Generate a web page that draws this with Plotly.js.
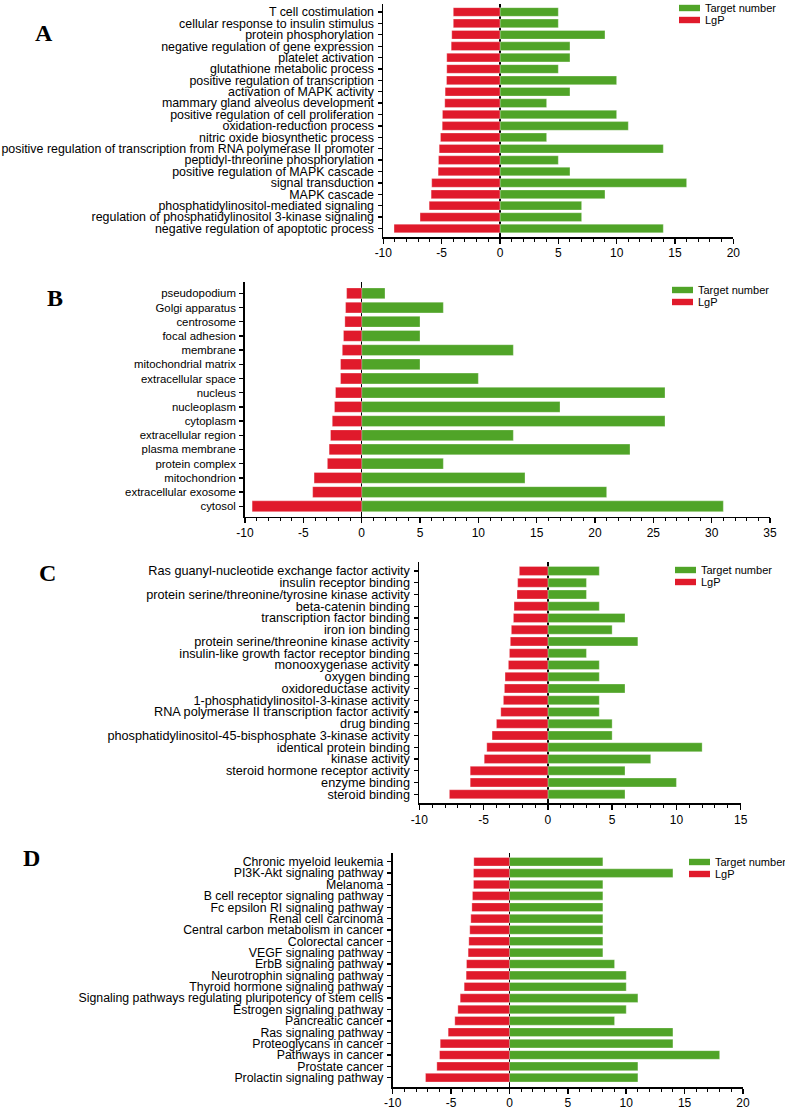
<!DOCTYPE html>
<html>
<head>
<meta charset="utf-8">
<script src="https://cdn.plot.ly/plotly-3.0.1.min.js"></script>
<style>html,body{margin:0;padding:0;background:#fff;}#chart{width:785px;height:1110px;}</style>
</head>
<body>
<div id="chart"></div>
<script>
// ---------- DATA ----------
const seriesNames = ["Target number", "LgP"];

const catsA = ["T cell costimulation","cellular response to insulin stimulus","protein phosphorylation","negative regulation of gene expression","platelet activation","glutathione metabolic process","positive regulation of transcription","activation of MAPK activity","mammary gland alveolus development","positive regulation of cell proliferation","oxidation-reduction process","nitric oxide biosynthetic process","positive regulation of transcription from RNA polymerase II promoter","peptidyl-threonine phosphorylation","positive regulation of MAPK cascade","signal transduction","MAPK cascade","phosphatidylinositol-mediated signaling","regulation of phosphatidylinositol 3-kinase signaling","negative regulation of apoptotic process"];
const lgpA = [-4.0,-4.0,-4.13,-4.18,-4.56,-4.56,-4.58,-4.70,-4.73,-4.93,-4.95,-5.10,-5.21,-5.27,-5.30,-5.85,-5.90,-6.07,-6.85,-9.08];
const numA = [5,5,9,6,6,5,10,6,4,10,11,4,14,5,6,16,9,7,7,14];

const catsB = ["pseudopodium","Golgi apparatus","centrosome","focal adhesion","membrane","mitochondrial matrix","extracellular space","nucleus","nucleoplasm","cytoplasm","extracellular region","plasma membrane","protein complex","mitochondrion","extracellular exosome","cytosol"];
const lgpB = [-1.29,-1.38,-1.44,-1.56,-1.66,-1.81,-1.81,-2.24,-2.33,-2.52,-2.67,-2.79,-2.94,-4.08,-4.20,-9.39];
const numB = [2,7,5,5,13,5,10,26,17,26,13,23,7,14,21,31];

const catsC = ["Ras guanyl-nucleotide exchange factor activity","insulin receptor binding","protein serine/threonine/tyrosine kinase activity","beta-catenin binding","transcription factor binding","iron ion binding","protein serine/threonine kinase activity","insulin-like growth factor receptor binding","monooxygenase activity","oxygen binding","oxidoreductase activity","1-phosphatidylinositol-3-kinase activity","RNA polymerase II transcription factor activity","drug binding","phosphatidylinositol-45-bisphosphate 3-kinase activity","identical protein binding","kinase activity","steroid hormone receptor activity","enzyme binding","steroid binding"];
const lgpC = [-2.22,-2.35,-2.40,-2.63,-2.68,-2.84,-2.92,-2.99,-3.07,-3.33,-3.38,-3.46,-3.66,-4.00,-4.34,-4.75,-4.95,-6.04,-6.04,-7.66];
const numC = [4,3,3,4,6,5,7,3,4,4,6,4,4,5,5,12,8,6,10,6];

const catsD = ["Chronic myeloid leukemia","PI3K-Akt signaling pathway","Melanoma","B cell receptor signaling pathway","Fc epsilon RI signaling pathway","Renal cell carcinoma","Central carbon metabolism in cancer","Colorectal cancer","VEGF signaling pathway","ErbB signaling pathway","Neurotrophin signaling pathway","Thyroid hormone signaling pathway","Signaling pathways regulating pluripotency of stem cells","Estrogen signaling pathway","Pancreatic cancer","Ras signaling pathway","Proteoglycans in cancer","Pathways in cancer","Prostate cancer","Prolactin signaling pathway"];
const lgpD = [-3.05,-3.08,-3.08,-3.17,-3.22,-3.31,-3.40,-3.48,-3.54,-3.68,-3.71,-3.88,-4.22,-4.42,-4.68,-5.25,-5.93,-5.99,-6.22,-7.19];
const numD = [8,14,8,8,8,8,8,8,8,9,10,10,11,10,9,14,14,18,11,11];

const panelLetters = ["A","B","C","D"];
const xTicksA = [-10,-5,0,5,10,15,20];
const xTicksB = [-10,-5,0,5,10,15,20,25,30,35];
const xTicksC = [-10,-5,0,5,10,15];
const xTicksD = [-10,-5,0,5,10,15,20];

// ---------- STYLE / LAYOUT ----------
const W = 785, H = 1110;
const GREEN = "#50A428", RED = "#E01A2B";
const FONT = "Liberation Sans, Arial, sans-serif";
const px = x => x / W, py = y => 1 - y / H;

const panels = [
  {cats: catsA, lgp: lgpA, num: numA, ticks: xTicksA, x0: 383.3, x1: 733.3, yt: 4,     yb: 236.7, padT: 0.70, padB: 0.72, fs: 12.4,
   leg: {x: 679, y: 8, dy: 12}, letter: {x: 44, y: 33}},
  {cats: catsB, lgp: lgpB, num: numB, ticks: xTicksB, x0: 245,   x1: 770,   yt: 281.7, yb: 516.6, padT: 0.82, padB: 0.73, fs: 11.4,
   leg: {x: 672, y: 290, dy: 12}, letter: {x: 55, y: 298}},
  {cats: catsC, lgp: lgpC, num: numC, ticks: xTicksC, x0: 419.3, x1: 740.7, yt: 561.7, yb: 803.3, padT: 0.79, padB: 0.77, fs: 12.7,
   leg: {x: 675, y: 570, dy: 12}, letter: {x: 47, y: 573}},
  {cats: catsD, lgp: lgpD, num: numD, ticks: xTicksD, x0: 392.7, x1: 743,   yt: 853,   yb: 1087,  padT: 0.77, padB: 0.82, fs: 12.3,
   leg: {x: 689, y: 862, dy: 12}, letter: {x: 31, y: 858}}
];

const data = [];
const layout = {
  width: W, height: H,
  margin: {l: 0, r: 0, t: 0, b: 0},
  paper_bgcolor: "#fff", plot_bgcolor: "rgba(0,0,0,0)",
  barmode: "relative", bargap: 0.24,
  showlegend: false,
  font: {family: FONT, color: "#000"},
  shapes: [], annotations: []
};

panels.forEach((p, i) => {
  const k = i === 0 ? "" : String(i + 1);
  const xa = "x" + k, ya = "y" + k;
  data.push({type: "bar", orientation: "h", name: seriesNames[0], y: p.cats, x: p.num,
    xaxis: xa, yaxis: ya, marker: {color: GREEN, line: {color: "rgba(255,255,255,0.5)", width: 0.6}}, hoverinfo: "x+y"});
  data.push({type: "bar", orientation: "h", name: seriesNames[1], y: p.cats, x: p.lgp,
    xaxis: xa, yaxis: ya, marker: {color: RED, line: {color: "rgba(255,255,255,0.5)", width: 0.6}}, hoverinfo: "x+y"});

  const n = p.cats.length;
  layout["xaxis" + k] = {
    domain: [px(p.x0), px(p.x1)], anchor: ya, range: [p.ticks[0], p.ticks[p.ticks.length - 1]],
    tickmode: "array", tickvals: p.ticks, ticktext: p.ticks.map(v => String(v)),
    ticks: "outside", ticklen: 5, tickwidth: 1.5, tickcolor: "#000",
    minor: {tickmode: "linear", tick0: 0, dtick: 1, ticks: "outside", ticklen: 3, tickwidth: 1, tickcolor: "#000", showgrid: false},
    showline: true, linecolor: "#000", linewidth: 1.8,
    showgrid: false, zeroline: true, zerolinecolor: "#000", zerolinewidth: 1.5,
    tickfont: {family: FONT, size: 12, color: "#000"}, ticklabelstandoff: -1, fixedrange: true
  };
  layout["yaxis" + k] = {
    domain: [py(p.yb), py(p.yt)], anchor: xa, type: "category",
    categoryorder: "array", categoryarray: p.cats,
    tickmode: "array", tickvals: p.cats, ticktext: p.cats,
    range: [n - 1 + p.padB, -p.padT],
    ticks: "outside", ticklen: 4, tickwidth: 1.3, tickcolor: "#000",
    showline: true, linecolor: "#000", linewidth: 1.8, showgrid: false, zeroline: false,
    tickfont: {family: FONT, size: p.fs, color: "#000"}, ticklabelstandoff: 1, fixedrange: true
  };

  // legend (swatches + text)
  const cols = [GREEN, RED];
  seriesNames.forEach((nm, j) => {
    const cy = p.leg.y + j * p.leg.dy;
    layout.shapes.push({type: "rect", xref: "paper", yref: "paper",
      x0: px(p.leg.x), x1: px(p.leg.x + 21), y0: py(cy - 3.2), y1: py(cy + 3.2),
      fillcolor: cols[j], line: {width: 0}});
    layout.annotations.push({xref: "paper", yref: "paper", x: px(p.leg.x + 24), y: py(cy),
      xanchor: "left", yanchor: "middle", showarrow: false, text: nm,
      font: {family: FONT, size: 11, color: "#000"}});
  });

  layout.annotations.push({xref: "paper", yref: "paper", x: px(p.letter.x), y: py(p.letter.y),
    xanchor: "center", yanchor: "middle", showarrow: false, text: "<b>" + panelLetters[i] + "</b>",
    font: {family: "Liberation Serif, Times New Roman, serif", size: 24, color: "#000"}});
});

Plotly.newPlot("chart", data, layout, {displayModeBar: false, staticPlot: true});
</script>
</body>
</html>
